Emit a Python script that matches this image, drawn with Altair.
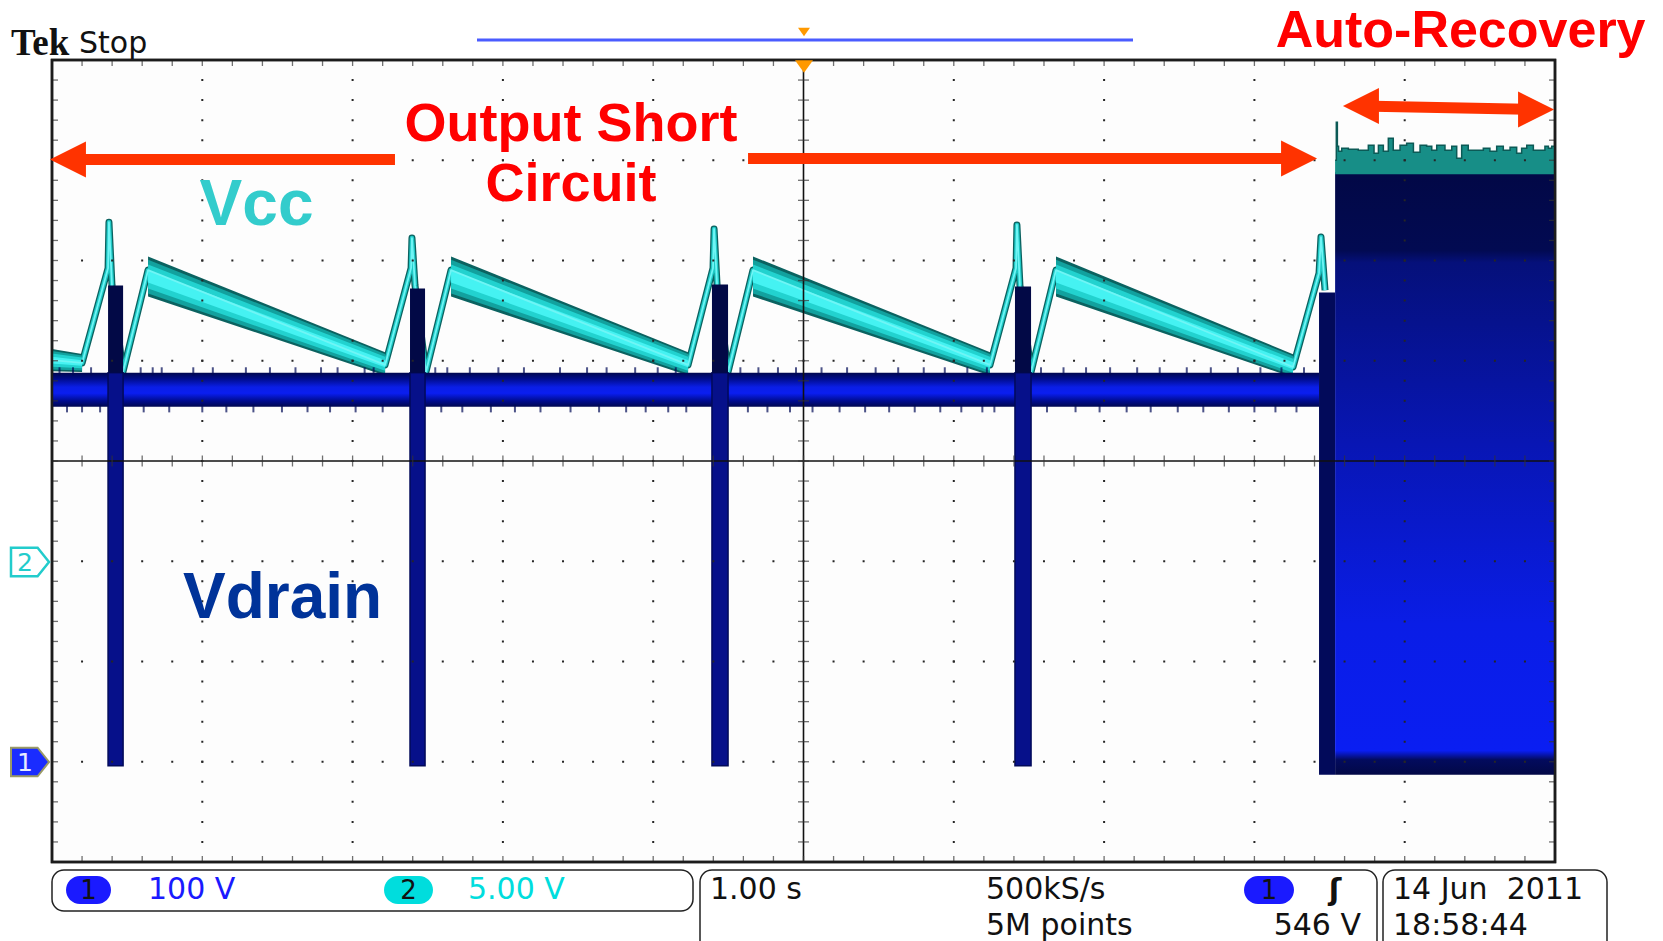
import altair as alt
import pandas as pd

# ---------------- plot-area geometry (10 x 8 divisions) ----------------
W, H = 1503, 802
PAD = {"left": 52, "top": 60, "right": 108, "bottom": 79}

# ---------------- channel scaling ----------------
CH1_V_PER_DIV, CH1_GND_DIV = 100.0, -3.0   # Vdrain, 100 V/div
CH2_V_PER_DIV, CH2_GND_DIV = 5.0, -1.0     # Vcc, 5.00 V/div

# ---------------- Vcc (channel 2) trace, time in s, value in V ----------------
vcc_t = [-5.000, -4.800, -4.627, -4.621, -4.601, -4.528, -4.361,
         -2.784, -2.611, -2.605, -2.585, -2.512, -2.345,
         -0.768, -0.602, -0.595, -0.575, -0.502, -0.336,
         1.241, 1.414, 1.420, 1.440, 1.514, 1.680,
         3.257, 3.430, 3.443, 3.470]
vcc_v = [10.03, 9.89, 14.62, 16.91, 13.77, 9.44, 14.52,
         9.79, 14.62, 16.12, 13.77, 9.44, 14.52,
         9.79, 14.62, 16.57, 13.77, 9.44, 14.52,
         9.79, 14.62, 16.77, 13.77, 9.44, 14.52,
         9.69, 14.37, 16.17, 13.52]

# jitter band around the slow Vcc discharge slopes
band_seg = [0, 0, 1, 1, 2, 2, 3, 3, 4, 4]
band_t = [-5.000, -4.800, -4.361, -2.784, -2.345, -0.768, -0.336, 1.241, 1.680, 3.257]
band_v = [10.03, 9.89, 14.20, 9.85, 14.20, 9.85, 14.20, 9.85, 14.20, 9.75]
band_half = [0.55, 0.45, 1.00, 0.58, 1.00, 0.58, 1.00, 0.58, 1.00, 0.58]

# Vcc during auto-recovery burst
burst_vcc_t = [3.537, 3.545, 3.552, 3.560, 3.581, 3.625, 3.691, 3.758, 3.796, 3.825,
               3.858, 3.891, 3.924, 3.969, 4.013, 4.058, 4.102, 4.146, 4.180, 4.213,
               4.268, 4.313, 4.346, 4.379, 4.423, 4.468, 4.523, 4.567, 4.612, 4.656,
               4.701, 4.745, 4.778, 4.812, 4.856, 4.900, 4.933, 4.956, 4.978, 5.000]
burst_vcc_v = [20.0, 21.9, 20.7, 20.45, 20.6, 20.55, 20.5, 20.75, 20.35, 20.75,
               20.45, 21.1, 20.5, 20.75, 20.85, 20.4, 20.75, 20.7, 20.5, 20.75,
               20.5, 20.7, 20.1, 20.75, 20.5, 20.5, 20.6, 20.45, 20.7, 20.5,
               20.65, 20.35, 20.6, 20.75, 20.5, 20.5, 20.7, 20.6, 20.7, 20.55]
burst_vcc_floor = 19.3

# ---------------- Vdrain (channel 1) ----------------
vd_band_t0, vd_band_t1 = -5.0, 3.43
vd_band_lo, vd_band_hi = 354.0, 388.0
spike_t0 = [-4.627, -2.618, -0.609, 1.407]
spike_t1 = [-4.527, -2.518, -0.502, 1.514]
spike_vmin = [-4, -4, -4, -4]
spike_vmax = [475, 472, 476, 474]
burst_t0 = [3.430, 3.537]
burst_t1 = [3.537, 5.000]
burst_vmin = [-13, -13]
burst_vmax = [468, 588]
noise_up_t = [-4.95, -4.86, -4.74, -4.41, -4.33, -4.27, -4.06, -3.93, -3.71, -3.55,
              -3.38, -3.21, -3.10, -2.92, -2.86, -2.45, -2.37, -2.22, -2.03, -1.86,
              -1.62, -1.44, -1.31, -1.12, -0.97, -0.85, -0.42, -0.30, -0.17, -0.05,
              0.12, 0.29, 0.48, 0.63, 0.80, 0.94, 1.09, 1.22, 1.58, 1.73,
              1.88, 2.04, 2.22, 2.37, 2.55, 2.71, 2.89, 3.04, 3.18, 3.33]
noise_dn_t = [-4.90, -4.80, -4.68, -4.39, -4.22, -4.00, -3.84, -3.66, -3.47, -3.30,
              -3.15, -2.98, -2.80, -2.41, -2.27, -2.08, -1.92, -1.75, -1.55, -1.36,
              -1.18, -1.05, -0.90, -0.78, -0.37, -0.24, -0.09, 0.06, 0.24, 0.41,
              0.57, 0.74, 0.91, 1.05, 1.19, 1.27, 1.62, 1.81, 1.97, 2.15,
              2.31, 2.49, 2.66, 2.83, 3.00, 3.14, 3.28]

# ---------------- graticule ----------------
x_major = [-4, -3, -2, -1, 1, 2, 3, 4]
y_major = [-3, -2, -1, 1, 2, 3]
x_minor = [round(-5 + 0.2 * i, 1) for i in range(1, 50)]
y_minor = [round(-4 + 0.2 * i, 1) for i in range(1, 40)]

# ---------------- annotations (x in s, y in div) ----------------
ann_text = ["Output Short", "Circuit", "Auto-Recovery"]
ann_x = [-1.547, -1.547, 4.372]
ann_y = [3.192, 2.589, 4.125]
arrow_id = [0, 0, 1, 1, 2, 2]
arrow_x = [-4.88, -2.718, -0.369, 3.297, 3.709, 4.874]
arrow_y = [3.007, 3.007, 3.017, 3.017, 3.541, 3.506]
head_l_x, head_l_y = [-4.894, 3.709], [3.007, 3.541]
head_r_x, head_r_y = [3.297, 4.874], [3.017, 3.506]


def ch1(v):
    return v / CH1_V_PER_DIV + CH1_GND_DIV


def ch2(v):
    return v / CH2_V_PER_DIV + CH2_GND_DIV


XS = alt.Scale(domain=[-5, 5], nice=False, zero=False)
YS = alt.Scale(domain=[-4, 4], nice=False, zero=False)


def xq(f):
    return alt.X(f"{f}:Q", scale=XS, axis=None)


def yq(f):
    return alt.Y(f"{f}:Q", scale=YS, axis=None)


def grad(stops):
    return {"gradient": "linear", "x1": 0, "y1": 0, "x2": 0, "y2": 1,
            "stops": [{"offset": o, "color": c} for o, c in stops]}


# ---------------- tables ----------------
vcc_df = pd.DataFrame({"t": vcc_t, "d": [ch2(v) for v in vcc_v], "i": list(range(len(vcc_t)))})
band_rows = []
for s, t, v, h in zip(band_seg, band_t, band_v, band_half):
    row = {"seg": s, "t": t}
    for k, f in enumerate([1.0, 0.84, 0.6, 0.3]):
        row[f"lo{k}"] = ch2(v - f * h)
        row[f"hi{k}"] = ch2(v + f * h)
    band_rows.append(row)
band_df = pd.DataFrame(band_rows)
bvcc_df = pd.DataFrame({"t": burst_vcc_t, "top": [ch2(v) for v in burst_vcc_v],
                        "floor": [ch2(burst_vcc_floor)] * len(burst_vcc_t)})

vband_df = pd.DataFrame({"t0": [vd_band_t0], "t1": [vd_band_t1],
                         "lo": [ch1(vd_band_lo)], "hi": [ch1(vd_band_hi)]})
spike_df = pd.DataFrame({"t0": spike_t0, "t1": spike_t1,
                         "lo": [ch1(v) for v in spike_vmin],
                         "mid": [ch1(vd_band_hi)] * len(spike_t0),
                         "hi": [ch1(v) for v in spike_vmax]})
step_df = pd.DataFrame({"t0": burst_t0[:1], "t1": burst_t1[:1],
                        "lo": [ch1(burst_vmin[0])], "hi": [ch1(burst_vmax[0])]})
burst_df = pd.DataFrame({"t0": burst_t0[1:], "t1": burst_t1[1:],
                         "lo": [ch1(burst_vmin[1])], "hi": [ch1(burst_vmax[1])]})
nup_df = pd.DataFrame({"t": noise_up_t, "d": [ch1(vd_band_hi + 1.5)] * len(noise_up_t)})
ndn_df = pd.DataFrame({"t": noise_dn_t, "d": [ch1(vd_band_lo - 1.5)] * len(noise_dn_t)})

ann_df = pd.DataFrame({"label": ann_text, "x": ann_x, "y": ann_y,
                       "size": [54, 54, 52]})
arrow_df = pd.DataFrame({"id": arrow_id, "x": arrow_x, "y": arrow_y})
hl_df = pd.DataFrame({"x": head_l_x, "y": head_l_y})
hr_df = pd.DataFrame({"x": head_r_x, "y": head_r_y})
zero_df = pd.DataFrame({"x": [0.0], "y": [0.0]})

ONE = pd.DataFrame({"k": [0]})

layers = []

# ---------- Vcc periodic part ----------
# ramps (dark edge + cyan body)
for sw, col in [(7, "#0b6260"), (4.4, "#1fc9c6")]:
    layers.append(alt.Chart(vcc_df).mark_line(color=col, strokeWidth=sw, strokeJoin="round",
                                              strokeCap="butt").encode(
        x=xq("t"), y=yq("d"), order="i:Q"))
# discharge jitter band, dark edges to bright core
band_cols = ["#0b6260", "#12a19e", "#22d2cf", "#45f2f2"]
for k, col in enumerate(band_cols):
    layers.append(alt.Chart(band_df).mark_area(color=col).encode(
        x=xq("t"), y=yq(f"lo{k}"), y2=alt.Y2(f"hi{k}"), detail="seg:N"))
layers.append(alt.Chart(vcc_df).mark_line(color="#6ff5f5", strokeWidth=1.8, strokeJoin="round").encode(
    x=xq("t"), y=yq("d"), order="i:Q"))

# ---------- Vdrain ----------
layers.append(alt.Chart(vband_df).mark_rect(color=grad([
    (0, "#00074f"), (0.18, "#000c8c"), (0.42, "#0a1ee6"), (0.6, "#0a1ef0"),
    (0.82, "#000c90"), (1, "#00074f")])).encode(
    x=xq("t0"), x2=alt.X2("t1"), y=yq("lo"), y2=alt.Y2("hi")))
layers.append(alt.Chart(nup_df).mark_tick(orient="vertical", size=8, thickness=2,
                                          color="#000a55").encode(x=xq("t"), y=yq("d")))
layers.append(alt.Chart(ndn_df).mark_tick(orient="vertical", size=8, thickness=2,
                                          color="#000a55").encode(x=xq("t"), y=yq("d")))
layers.append(alt.Chart(spike_df).mark_rect(color="#06108a", stroke="#020a5a", strokeWidth=1.5).encode(
    x=xq("t0"), x2=alt.X2("t1"), y=yq("lo"), y2=alt.Y2("mid")))
layers.append(alt.Chart(spike_df).mark_rect(color="#020946").encode(
    x=xq("t0"), x2=alt.X2("t1"), y=yq("mid"), y2=alt.Y2("hi")))
layers.append(alt.Chart(step_df).mark_rect(color="#020a5a").encode(
    x=xq("t0"), x2=alt.X2("t1"), y=yq("lo"), y2=alt.Y2("hi")))
layers.append(alt.Chart(burst_df).mark_rect(color=grad([
    (0, "#020846"), (0.13, "#020a52"), (0.15, "#05107a"), (0.45, "#0816b4"),
    (0.75, "#0a1de6"), (0.96, "#0a1ef2"), (0.975, "#030b5e"), (1, "#020846")])).encode(
    x=xq("t0"), x2=alt.X2("t1"), y=yq("lo"), y2=alt.Y2("hi")))

# ---------- Vcc during burst ----------
layers.append(alt.Chart(bvcc_df).mark_area(color="#178e87", interpolate="step-after").encode(
    x=xq("t"), y=yq("top"), y2=alt.Y2("floor")))
layers.append(alt.Chart(bvcc_df).mark_line(color="#0c5a56", strokeWidth=1.5,
                                           interpolate="step-after").encode(
    x=xq("t"), y=yq("top")))

# ---------- graticule ----------
xmaj_df = pd.DataFrame({"x": x_major})
ymaj_df = pd.DataFrame({"y": y_major})
xmin_df = pd.DataFrame({"x": x_minor})
ymin_df = pd.DataFrame({"y": y_minor})
layers.append(alt.Chart(xmaj_df).mark_rule(color="#262626", strokeWidth=2,
                                           strokeDash=[2, 18.05], strokeDashOffset=1).encode(x=xq("x")))
layers.append(alt.Chart(ymaj_df).mark_rule(color="#262626", strokeWidth=2,
                                           strokeDash=[2, 28.06], strokeDashOffset=1).encode(y=yq("y")))
layers.append(alt.Chart(zero_df).mark_rule(color="#111111", strokeWidth=1.6).encode(x=xq("x")))
layers.append(alt.Chart(zero_df).mark_rule(color="#111111", strokeWidth=1.6).encode(y=yq("y")))
# centre-cross ticks
layers.append(alt.Chart(xmin_df).mark_tick(orient="vertical", size=11, thickness=1.3, color="#333333").encode(
    x=xq("x"), y=alt.value(H / 2)))
layers.append(alt.Chart(ymin_df).mark_tick(orient="horizontal", size=11, thickness=1.3, color="#333333").encode(
    y=yq("y"), x=alt.value(W / 2)))
# border ticks
for yv in [3, H - 3]:
    layers.append(alt.Chart(xmin_df).mark_tick(orient="vertical", size=6, thickness=1.3, color="#333333").encode(
        x=xq("x"), y=alt.value(yv)))
for xv in [3, W - 3]:
    layers.append(alt.Chart(ymin_df).mark_tick(orient="horizontal", size=6, thickness=1.3, color="#333333").encode(
        y=yq("y"), x=alt.value(xv)))
# frame
layers.append(alt.Chart(ONE).mark_rect(fillOpacity=0, stroke="#1c1c1c", strokeWidth=2.5).encode(
    x=alt.value(0), x2=alt.value(W), y=alt.value(0), y2=alt.value(H)))

# ---------- annotations ----------
layers.append(alt.Chart(arrow_df).mark_line(color="#ff3300", strokeWidth=11, strokeCap="butt").encode(
    x=xq("x"), y=yq("y"), detail="id:N"))
layers.append(alt.Chart(hl_df).mark_point(shape="M-1,0L1,-1L1,1Z", size=1296, filled=True,
                                          color="#ff3300", opacity=1).encode(x=xq("x"), y=yq("y")))
layers.append(alt.Chart(hr_df).mark_point(shape="M1,0L-1,-1L-1,1Z", size=1296, filled=True,
                                          color="#ff3300", opacity=1).encode(x=xq("x"), y=yq("y")))
layers.append(alt.Chart(ann_df).mark_text(font="Liberation Sans", fontWeight="bold",
                                          color="#ff0000", align="center", baseline="alphabetic").encode(
    x=xq("x"), y=yq("y"), text="label:N", size=alt.Size("size:Q", scale=None, legend=None)))
lab_df = pd.DataFrame({"label": ["Vcc"], "x": [-3.639], "y": [2.354]})
layers.append(alt.Chart(lab_df).mark_text(font="Liberation Sans", fontWeight="bold", fontSize=64,
                                          color="#33cccc", align="center", baseline="alphabetic").encode(
    x=xq("x"), y=yq("y"), text="label:N"))
lab2_df = pd.DataFrame({"label": ["Vdrain"], "x": [-3.466], "y": [-1.566]})
layers.append(alt.Chart(lab2_df).mark_text(font="Liberation Sans", fontWeight="bold", fontSize=64,
                                           color="#003399", align="center", baseline="alphabetic").encode(
    x=xq("x"), y=yq("y"), text="label:N"))


# ---------- instrument chrome (pixel positions relative to the graticule) ----------
def ui_text(txt, x, y, size=30, color="#111111", font="DejaVu Sans", weight="normal",
            align="left", baseline="middle"):
    return alt.Chart(ONE).mark_text(text=txt, font=font, fontSize=size, fontWeight=weight,
                                    color=color, align=align, baseline=baseline).encode(
        x=alt.value(x), y=alt.value(y))


def ui_box(x0, x1, y0, y1, fill="white", stroke="#222222", r=12, sw=1.5):
    return alt.Chart(ONE).mark_rect(fill=fill, stroke=stroke, strokeWidth=sw, cornerRadius=r).encode(
        x=alt.value(x0), x2=alt.value(x1), y=alt.value(y0), y2=alt.value(y1))


def ui_shape(path, size, x, y, fill, stroke="#000000", sw=0):
    return alt.Chart(ONE).mark_point(shape=path, size=size, filled=True, fill=fill, opacity=1,
                                     stroke=stroke, strokeWidth=sw).encode(
        x=alt.value(x), y=alt.value(y))


layers.append(ui_text("Tek", -41, -5, size=37, font="Liberation Serif", weight="bold",
                      baseline="alphabetic"))
layers.append(ui_text("Stop", 27, -7, size=30, baseline="alphabetic"))
layers.append(alt.Chart(ONE).mark_rule(color="#4a5cff", strokeWidth=3).encode(
    x=alt.value(425), x2=alt.value(1081), y=alt.value(-20)))
layers.append(ui_shape("M-1,-0.7L1,-0.7L0,0.7Z", 144, 752, -28, "#ff9900"))
layers.append(ui_shape("M-1,-0.7L1,-0.7L0,0.7Z", 324, 752, 6.5, "#ff9900"))

# channel ground markers
marker = "M-1,-0.75L0.4,-0.75L1,0L0.4,0.75L-1,0.75Z"
layers.append(ui_shape(marker, 1444, -22, 502, "#ffffff", "#22cccc", 2.5))
layers.append(ui_text("2", -27, 503, size=25, color="#22cccc", align="center"))
layers.append(ui_shape(marker, 1444, -22, 702, "#1a2cff", "#9a9a66", 2))
layers.append(ui_text("1", -27, 703, size=25, color="#e8ecff", align="center"))

# bottom readout
layers.append(ui_box(0, 641, 810, 851))
layers.append(ui_box(648, 1325, 810, 905))
layers.append(ui_box(1331, 1555, 810, 905))
layers.append(ui_box(14, 59, 816, 844, fill="#1a1aff", stroke="#1a1aff", r=14, sw=0))
layers.append(ui_text("1", 36.5, 831, size=26, align="center"))
layers.append(ui_text("100 V", 96, 830, color="#1a1aff"))
layers.append(ui_box(332, 381, 816, 844, fill="#00dddd", stroke="#00dddd", r=14, sw=0))
layers.append(ui_text("2", 356.5, 831, size=26, align="center"))
layers.append(ui_text("5.00 V", 416, 830, color="#00dddd"))
layers.append(ui_text("1.00 s", 658, 830))
layers.append(ui_text("500kS/s", 934, 830))
layers.append(ui_text("5M points", 934, 866))
layers.append(ui_box(1192, 1242, 816, 844, fill="#1a1aff", stroke="#1a1aff", r=14, sw=0))
layers.append(ui_text("1", 1217, 831, size=26, align="center"))
layers.append(ui_text("ʃ", 1283, 831, size=30, weight="bold", align="center"))
layers.append(ui_text("546 V", 1309, 866, align="right"))
layers.append(ui_text("14 Jun\u00a0 2011", 1341, 830))
layers.append(ui_text("18:58:44", 1341, 866))

chart = alt.layer(*layers).properties(
    width=W, height=H, padding=PAD,
    autosize=alt.AutoSizeParams(type="none"),
    background="white",
).configure_view(stroke="#1c1c1c", strokeWidth=2.5, fill="#fdfdfd")

chart.save("out.html", embed_options={"renderer": "svg", "actions": False})
